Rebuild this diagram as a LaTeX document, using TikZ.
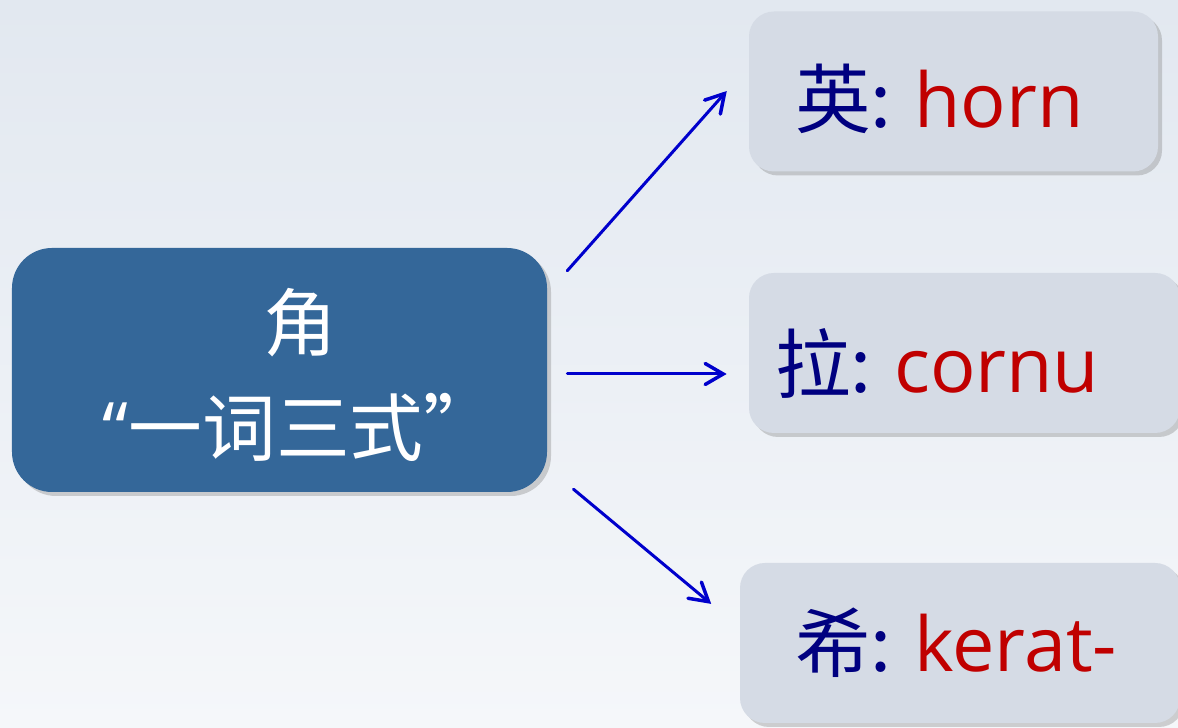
\documentclass[tikz,border=0pt]{standalone}
\usepackage{fontspec}
\setmainfont{Open Sans}
\newfontfamily\cjk{Noto Sans CJK SC}
\usetikzlibrary{arrows.meta, shadows}

\definecolor{rootblue}{HTML}{346799}
\definecolor{langgrey}{HTML}{D5DBE5}
\definecolor{linkblue}{HTML}{0000CC}
\definecolor{langnavy}{HTML}{000080}
\definecolor{wordred}{HTML}{C00000}
\definecolor{bgtop}{HTML}{E2E8F0}
\definecolor{bgbottom}{HTML}{F5F7FA}

\begin{document}
\begin{tikzpicture}[
    rootbox/.style={fill=rootblue, rounded corners=0.8cm, minimum width=10.7cm, minimum height=4.88cm,
        drop shadow={shadow xshift=0.08cm, shadow yshift=-0.08cm, opacity=0.35}},
    langbox/.style={fill=langgrey, rounded corners=0.5cm, minimum height=3.2cm,
        drop shadow={shadow xshift=0.08cm, shadow yshift=-0.08cm, opacity=0.35}},
    langtext/.style={anchor=west, inner sep=0pt, font=\fontsize{43}{52}\selectfont},
    link/.style={draw=linkblue, line width=0.06cm, line cap=round,
        -{Straight Barb[length=0.36cm, width=0.42cm, line width=0.07cm, line cap=round]}}
]
    % Background
    \useasboundingbox (0,0) rectangle (23.56,14.56);
    \shade[top color=bgtop, bottom color=bgbottom] (0,0) rectangle (23.56,14.56);

    % Root word box
    \node[rootbox] (root) at (5.59,7.16) {};
    \node[align=center, text=white, font=\fontsize{42}{60}\selectfont] (rootlabel) at (6.0,7.06)
        {\cjk 角\\“\cjk 一词三式”};

    % Language boxes
    \node[langbox, minimum width=8.18cm] (english) at (19.07,12.73) {};
    \node[langbox, minimum width=8.62cm] (latin) at (19.29,7.5) {};
    \node[langbox, minimum width=8.8cm] (greek) at (19.2,1.7) {};

    % Labels
    \node[langtext] (englishlabel) at ([xshift=0.92cm, yshift=-0.15cm]english.west)
        {\textcolor{langnavy}{\cjk 英: }\textcolor{wordred}{horn}};
    \node[langtext] (latinlabel) at ([xshift=0.52cm, yshift=-0.2cm]latin.west)
        {\textcolor{langnavy}{\cjk 拉: }\textcolor{wordred}{cornu}};
    \node[langtext] (greeklabel) at ([xshift=1.1cm]greek.west)
        {\textcolor{langnavy}{\cjk 希: }\textcolor{wordred}{kerat-}};

    % Draw arrows
    \draw[link, shorten <=0.6cm, shorten >=0.66cm] (root.16) -- (english.173);
    \draw[link, shorten <=0.4cm, shorten >=0.44cm] ([yshift=-0.08cm]root.east) -- ([yshift=-0.08cm]root.east -| latin.west);
    \draw[link, shorten <=0.68cm, shorten >=0.74cm] (root.340.5) -- (greek.176.6);
\end{tikzpicture}
\end{document}
